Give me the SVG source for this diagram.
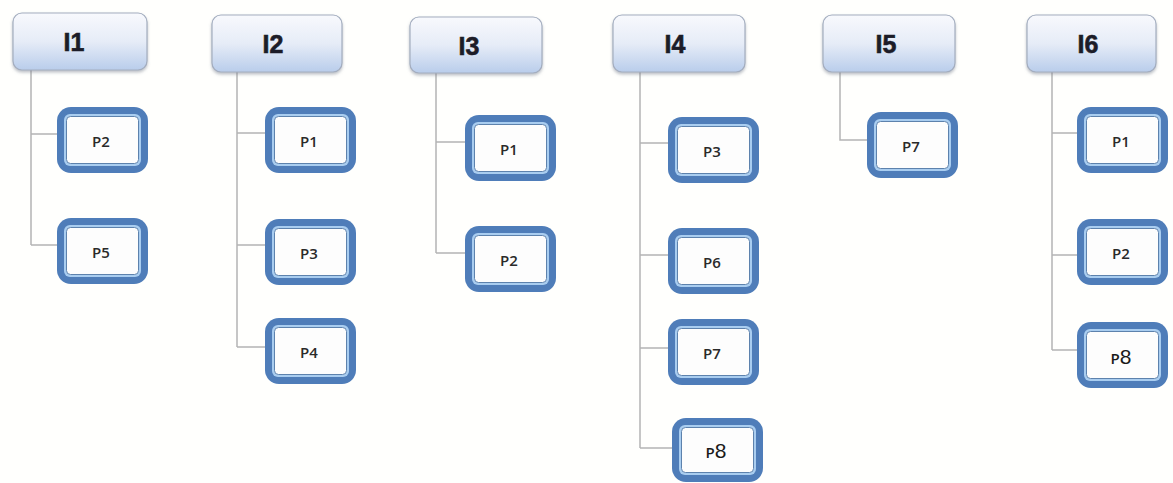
<svg xmlns="http://www.w3.org/2000/svg" width="1173" height="483" viewBox="0 0 1173 483">
<defs>
<linearGradient id="hg" x1="0" y1="0" x2="0" y2="1">
<stop offset="0" stop-color="#f8f9fd"/>
<stop offset="0.5" stop-color="#e6ecf7"/>
<stop offset="1" stop-color="#b9cdeb"/>
</linearGradient>
<filter id="sh" x="-10%" y="-10%" width="130%" height="140%">
<feDropShadow dx="0" dy="2" stdDeviation="1.5" flood-color="#7a8290" flood-opacity="0.5"/>
</filter>
<style>
.hd{fill:url(#hg);stroke:#a3adbf;stroke-width:1.2;filter:url(#sh)}
.ht{font-family:"Liberation Sans",Arial,sans-serif;font-weight:bold;font-size:25px;fill:#1c1c28;stroke:#1c1c28;stroke-width:0.6;text-anchor:middle}
.o{fill:#4f7db9}
.m{fill:#a9cdf0}
.i{fill:#fdfdfd;stroke:#5d82ad;stroke-width:1}
.pt{font-family:"Open Sans","Liberation Sans",sans-serif;font-weight:600;font-size:15px;fill:#2a2a2a;text-anchor:middle}
.pb{font-family:"Liberation Sans",Arial,sans-serif;fill:#1a1a1a;text-anchor:middle}
.pp{font-family:"Open Sans","Liberation Sans",sans-serif;font-weight:600;font-size:15px}
.p8{font-size:21px}
.c{fill:none;stroke:#b4b4b4;stroke-width:1.5}
</style>
</defs>
<rect width="1173" height="483" fill="#fffffd"/>
<g id="connectors">
<path class="c" d="M31 70V245M31 134H57M31 245H57"/>
<path class="c" d="M237 72V347M237 133H265M237 245H265M237 347H265"/>
<path class="c" d="M436 73V253M436 142H465M436 253H465"/>
<path class="c" d="M640 72V448M640 143H668M640 255H668M640 348H668M640 448H672"/>
<path class="c" d="M840 72V140H867"/>
<path class="c" d="M1052 72V350M1052 133H1077M1052 255H1077M1052 350H1077"/>
</g>
<g id="I1"><rect class="hd" x="13" y="13" width="134" height="57" rx="9"/><text class="ht" x="74" y="51">I1</text></g>
<g id="I2"><rect class="hd" x="212" y="15" width="130" height="57" rx="9"/><text class="ht" x="273" y="53">I2</text></g>
<g id="I3"><rect class="hd" x="410" y="17" width="132" height="56" rx="9"/><text class="ht" x="469" y="55">I3</text></g>
<g id="I4"><rect class="hd" x="613" y="15" width="132" height="57" rx="9"/><text class="ht" x="675" y="53">I4</text></g>
<g id="I5"><rect class="hd" x="823" y="15" width="132" height="57" rx="9"/><text class="ht" x="886" y="53">I5</text></g>
<g id="I6"><rect class="hd" x="1027" y="15" width="129" height="57" rx="9"/><text class="ht" x="1088" y="53">I6</text></g>

<g id="I1-P2" transform="translate(57,107)"><rect class="o" width="91" height="66" rx="14"/><rect class="m" x="7" y="7" width="77" height="52" rx="6"/><rect class="i" x="9.5" y="9.5" width="72" height="47" rx="4"/><text class="pt" x="44" y="40">P2</text></g>
<g id="I1-P5" transform="translate(57,218)"><rect class="o" width="91" height="66" rx="14"/><rect class="m" x="7" y="7" width="77" height="52" rx="6"/><rect class="i" x="9.5" y="9.5" width="72" height="47" rx="4"/><text class="pt" x="44" y="40">P5</text></g>

<g id="I2-P1" transform="translate(265,107)"><rect class="o" width="91" height="66" rx="14"/><rect class="m" x="7" y="7" width="77" height="52" rx="6"/><rect class="i" x="9.5" y="9.5" width="72" height="47" rx="4"/><text class="pt" x="44" y="40">P1</text></g>
<g id="I2-P3" transform="translate(265,219)"><rect class="o" width="91" height="66" rx="14"/><rect class="m" x="7" y="7" width="77" height="52" rx="6"/><rect class="i" x="9.5" y="9.5" width="72" height="47" rx="4"/><text class="pt" x="44" y="40">P3</text></g>
<g id="I2-P4" transform="translate(265,318)"><rect class="o" width="91" height="66" rx="14"/><rect class="m" x="7" y="7" width="77" height="52" rx="6"/><rect class="i" x="9.5" y="9.5" width="72" height="47" rx="4"/><text class="pt" x="44" y="40">P4</text></g>

<g id="I3-P1" transform="translate(465,115)"><rect class="o" width="91" height="66" rx="14"/><rect class="m" x="7" y="7" width="77" height="52" rx="6"/><rect class="i" x="9.5" y="9.5" width="72" height="47" rx="4"/><text class="pt" x="44" y="40">P1</text></g>
<g id="I3-P2" transform="translate(465,226)"><rect class="o" width="91" height="66" rx="14"/><rect class="m" x="7" y="7" width="77" height="52" rx="6"/><rect class="i" x="9.5" y="9.5" width="72" height="47" rx="4"/><text class="pt" x="44" y="40">P2</text></g>

<g id="I4-P3" transform="translate(668,117)"><rect class="o" width="91" height="66" rx="14"/><rect class="m" x="7" y="7" width="77" height="52" rx="6"/><rect class="i" x="9.5" y="9.5" width="72" height="47" rx="4"/><text class="pt" x="44" y="40">P3</text></g>
<g id="I4-P6" transform="translate(668,228)"><rect class="o" width="91" height="66" rx="14"/><rect class="m" x="7" y="7" width="77" height="52" rx="6"/><rect class="i" x="9.5" y="9.5" width="72" height="47" rx="4"/><text class="pt" x="44" y="40">P6</text></g>
<g id="I4-P7" transform="translate(668,319)"><rect class="o" width="91" height="66" rx="14"/><rect class="m" x="7" y="7" width="77" height="52" rx="6"/><rect class="i" x="9.5" y="9.5" width="72" height="47" rx="4"/><text class="pt" x="44" y="40">P7</text></g>
<g id="I4-P8" transform="translate(672,418)"><rect class="o" width="91" height="64" rx="14"/><rect class="m" x="7" y="7" width="77" height="50" rx="6"/><rect class="i" x="9.5" y="9.5" width="72" height="45" rx="4"/><text class="pb" x="44" y="40"><tspan class="pp">P</tspan><tspan class="p8">8</tspan></text></g>

<g id="I5-P7" transform="translate(867,112)"><rect class="o" width="91" height="66" rx="14"/><rect class="m" x="7" y="7" width="77" height="52" rx="6"/><rect class="i" x="9.5" y="9.5" width="72" height="47" rx="4"/><text class="pt" x="44" y="40">P7</text></g>

<g id="I6-P1" transform="translate(1077,107)"><rect class="o" width="91" height="66" rx="14"/><rect class="m" x="7" y="7" width="77" height="52" rx="6"/><rect class="i" x="9.5" y="9.5" width="72" height="47" rx="4"/><text class="pt" x="44" y="40">P1</text></g>
<g id="I6-P2" transform="translate(1077,219)"><rect class="o" width="91" height="66" rx="14"/><rect class="m" x="7" y="7" width="77" height="52" rx="6"/><rect class="i" x="9.5" y="9.5" width="72" height="47" rx="4"/><text class="pt" x="44" y="40">P2</text></g>
<g id="I6-P8" transform="translate(1077,322)"><rect class="o" width="91" height="66" rx="14"/><rect class="m" x="7" y="7" width="77" height="52" rx="6"/><rect class="i" x="9.5" y="9.5" width="72" height="47" rx="4"/><text class="pb" x="44" y="42"><tspan class="pp">P</tspan><tspan class="p8">8</tspan></text></g>
</svg>
